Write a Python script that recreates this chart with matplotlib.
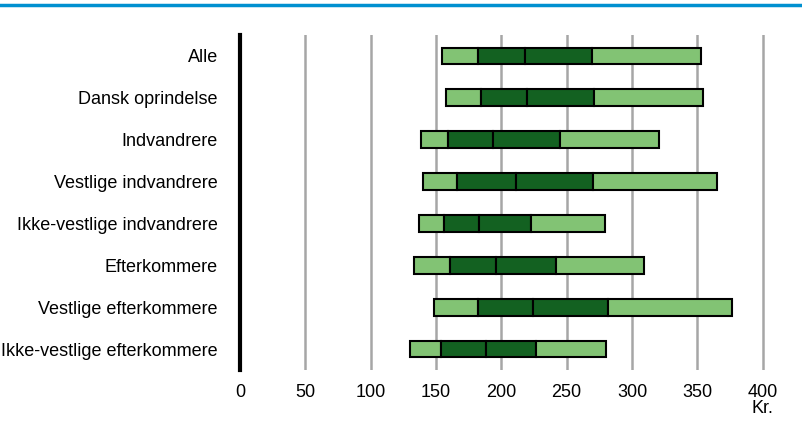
import matplotlib
matplotlib.use("Agg")
import matplotlib.pyplot as plt

categories = ["Alle", "Dansk oprindelse", "Indvandrere", "Vestlige indvandrere",
              "Ikke-vestlige indvandrere", "Efterkommere", "Vestlige efterkommere",
              "Ikke-vestlige efterkommere"]
p10 = [154.6, 157.4, 138.8, 140.3, 137.2, 132.9, 148.5, 130.4]
p25 = [182.1, 184.2, 159.2, 166.1, 156.4, 160.5, 182.4, 153.8]
p50 = [218.1, 219.9, 193.4, 211.0, 182.9, 195.9, 224.0, 188.0]
p75 = [269.4, 270.9, 244.6, 269.9, 222.4, 242.1, 281.6, 226.5]
p90 = [352.6, 354.3, 320.7, 365.1, 279.6, 308.9, 376.3, 280.1]
xticks = [0, 50, 100, 150, 200, 250, 300, 350, 400]

plt.rcParams['font.family'] = ['Liberation Sans', 'DejaVu Sans']

W, H = 803, 423
fig = plt.figure(figsize=(W/100, H/100), dpi=100)
ax = fig.add_axes([240/W, 1-370/H, (788.8-240)/W, (370-35)/H])

light = '#82c374'
dark = '#136121'
y = list(range(len(categories)))
segs = [(p10, p25, light), (p25, p50, dark), (p50, p75, dark), (p75, p90, light)]
for lo, hi, c in segs:
    ax.barh(y, [h - l for l, h in zip(lo, hi)], left=lo, height=0.4, color=c,
            edgecolor='black', linewidth=1.5, zorder=3)

ax.set_xlim(0, 420)
ax.set_ylim(7.5, -0.5)
ax.set_yticks(y)
ax.set_yticklabels(categories, fontsize=13)
ax.set_xticks(xticks)
ax.set_xticklabels([str(t) for t in xticks], fontsize=13)
ax.tick_params(axis='y', length=0, pad=16)
ax.tick_params(axis='x', length=0, pad=10)
for t in xticks[1:]:
    ax.axvline(t, color='#a6a6a6', linewidth=1.8, zorder=1)
for s in ['top', 'right', 'bottom']:
    ax.spines[s].set_visible(False)
ax.spines['left'].set_linewidth(3)
ax.spines['left'].set_color('black')
ax.spines['left'].set_zorder(4)

fig.text(762/W, 1-408/H, 'Kr.', ha='center', va='center', fontsize=13)
fig.add_artist(plt.Line2D([0, 1], [1-5/H, 1-5/H], color='#0090d0', linewidth=2.5,
                          transform=fig.transFigure))
fig.savefig('out.png', dpi=100)
